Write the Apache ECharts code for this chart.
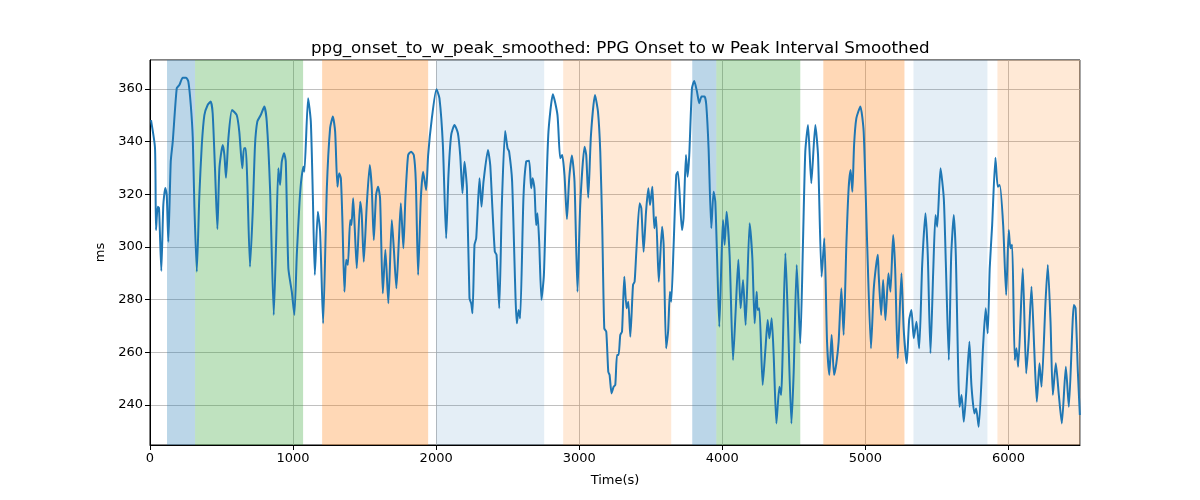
<!DOCTYPE html>
<html>
<head>
<meta charset="utf-8">
<script src="https://cdn.jsdelivr.net/npm/echarts@6/dist/echarts.min.js"></script>
<style>html,body{margin:0;padding:0;background:#fff}#c{width:1200px;height:500px}</style>
</head>
<body>
<div id="c"></div>
<script>
const title = 'ppg_onset_to_w_peak_smoothed: PPG Onset to w Peak Interval Smoothed';
const xTicks = [0, 1000, 2000, 3000, 4000, 5000, 6000];
const yTicks = [240, 260, 280, 300, 320, 340, 360];

const times = [7,35,42,54,63,79,93,107,117,128,145,159,187,205,229,252,268,285,299,310,327,345,362,380,403,424,438,455,471,485,508,520,531,548,573,606,624,645,657,669,680,699,718,734,750,774,799,816,839,865,881,897,909,921,937,949,967,991,1009,1026,1044,1056,1072,1079,1105,1124,1138,1152,1173,1189,1210,1236,1259,1278,1294,1310,1322,1334,1345,1359,1371,1383,1399,1408,1420,1431,1445,1469,1480,1494,1515,1536,1550,1564,1580,1594,1608,1627,1645,1666,1690,1704,1722,1739,1753,1771,1785,1804,1825,1844,1858,1874,1893,1909,1930,1944,1970,2002,2023,2047,2070,2086,2105,2128,2152,2168,2184,2198,2215,2233,2245,2254,2268,2280,2303,2317,2331,2362,2378,2392,2410,2422,2441,2459,2482,2499,2510,2531,2564,2576,2587,2610,2629,2650,2664,2674,2687,2699,2708,2720,2736,2753,2769,2785,2816,2848,2867,2881,2897,2914,2930,2949,2967,2988,3007,3037,3049,3063,3082,3110,3131,3147,3161,3175,3189,3203,3212,3226,3240,3252,3264,3275,3287,3299,3315,3331,3343,3357,3376,3387,3399,3422,3434,3450,3467,3483,3495,3511,3525,3537,3556,3579,3590,3607,3621,3634,3643,3659,3678,3690,3718,3729,3746,3757,3769,3788,3804,3823,3839,3855,3876,3888,3904,3923,3939,3951,3963,3979,3995,4005,4016,4030,4051,4075,4093,4112,4128,4145,4163,4191,4210,4226,4240,4247,4259,4282,4301,4317,4329,4345,4359,4378,4399,4411,4441,4459,4483,4499,4520,4545,4564,4580,4599,4622,4650,4669,4694,4713,4732,4748,4764,4781,4797,4813,4832,4848,4867,4883,4897,4909,4921,4937,4965,4988,5012,5039,5058,5073,5087,5093,5110,5124,5140,5161,5175,5194,5208,5226,5252,5268,5289,5306,5322,5338,5357,5376,5397,5420,5436,5455,5474,5490,5502,5525,5548,5562,5583,5600,5618,5632,5658,5672,5688,5705,5727,5741,5762,5774,5792,5823,5841,5855,5869,5886,5909,5925,5939,5963,5984,6002,6014,6026,6044,6056,6068,6100,6124,6142,6161,6180,6198,6217,6231,6259,6275,6294,6310,6331,6352,6373,6401,6422,6457,6469,6485,6499];

const values = [348.2,337.6,306.4,315.3,314.8,290.9,315.9,322.4,319.7,302.0,332.4,340.0,360.3,361.5,364.3,364.3,362.8,353.9,341.3,315.9,290.6,319.7,338.7,350.1,353.9,355.2,350.8,328.6,306.8,329.9,338.7,334.9,326.3,341.3,352.0,350.1,343.8,329.9,337.5,337.5,324.8,292.5,313.4,338.7,347.6,350.1,353.3,347.6,322.3,274.2,300.8,329.9,323.5,332.4,335.6,332.4,291.9,283.0,274.2,297.0,315.9,324.8,330.5,328.6,356.5,347.6,319.7,289.4,313.4,305.8,271.0,322.3,345.2,349.5,343.8,322.9,328.0,326.1,309.6,283.0,295.1,293.2,310.2,308.3,318.5,307.1,291.9,317.2,312.1,294.4,315.9,331.1,322.3,302.6,319.7,322.9,318.5,282.4,298.9,278.6,310.2,299.5,284.3,302.0,316.6,299.5,318.5,334.9,336.2,334.9,324.8,289.4,318.5,328.6,321.6,334.9,348.9,359.9,356.5,338.7,303.3,327.3,342.5,346.3,343.2,334.9,320.4,332.4,322.3,280.5,278.6,274.8,300.8,303.3,326.1,315.3,324.8,336.8,331.1,315.9,298.2,297.0,276.7,315.9,344.0,337.5,336.2,324.8,271.0,276.1,272.9,318.5,332.4,332.7,322.3,326.1,322.3,308.3,312.8,302.0,279.9,289.4,319.7,343.8,358.0,350.1,333.7,334.9,327.3,310.6,326.1,334.7,324.8,283.0,315.9,338.1,334.9,318.7,342.5,357.7,351.4,336.2,307.1,269.1,267.8,252.6,251.4,244.4,246.9,247.6,259.0,259.0,266.6,267.8,288.7,276.7,279.2,265.9,285.6,286.8,298.2,316.6,314.7,298.2,313.4,322.3,315.9,322.9,307.1,311.5,286.8,307.7,300.8,261.5,267.8,283.0,279.2,299.5,327.3,328.6,306.4,310.9,334.9,326.7,334.9,360.3,363.0,359.0,354.6,357.1,357.1,353.9,337.5,307.1,321.0,317.2,296.9,269.7,296.9,310.2,300.8,313.4,296.9,257.1,275.4,295.1,276.7,287.5,270.4,309.0,295.7,271.0,283.0,276.1,276.7,247.6,260.9,272.3,265.3,272.9,259.0,233.0,246.9,243.8,297.6,271.6,233.0,252.6,293.2,263.4,302.0,336.2,346.3,324.2,346.3,334.9,288.7,303.3,264.0,251.4,266.6,251.4,255.8,264.0,284.3,266.6,300.8,322.3,329.2,321.0,338.7,348.9,353.3,343.8,302.0,261.5,283.7,292.2,297.0,289.4,274.2,287.5,272.3,290.0,283.0,304.5,291.9,257.7,290.0,268.5,255.8,272.3,276.1,265.3,271.6,261.5,293.2,312.8,297.0,259.6,290.6,312.1,307.7,329.9,318.5,294.4,257.1,297.0,312.1,297.0,239.3,243.8,233.6,245.0,264.0,247.6,236.8,238.7,231.7,262.8,276.7,267.2,291.9,308.3,333.9,322.9,323.5,308.3,281.8,306.4,299.5,300.8,257.1,261.5,254.5,291.9,252.0,265.3,284.9,261.5,241.2,255.8,246.9,279.2,293.2,271.6,243.8,255.8,243.8,233.0,254.5,239.3,278.0,276.7,252.6,236.2];

// shaded segments: [start, end, kind]
const segStarts = [119, 315, 1203, 2000, 2888, 3790, 3958, 4706, 5336, 5923];
const segEnds   = [315, 1070, 1944, 2755, 3643, 3958, 4545, 5273, 5853, 6500];
const segKinds  = ['blue', 'green', 'orange', 'lightblue', 'lightorange', 'blue', 'green', 'orange', 'lightblue', 'lightorange'];

const kindColor = {
  blue: 'rgba(31,119,180,0.3)',
  green: 'rgba(44,160,44,0.3)',
  orange: 'rgba(255,127,14,0.3)',
  lightblue: 'rgba(31,119,180,0.12)',
  lightorange: 'rgba(255,127,14,0.17)'
};

const lineData = times.map((t, i) => [t, values[i]]);
const areas = segStarts.map((s, i) => [
  { xAxis: s, itemStyle: { color: kindColor[segKinds[i]] } },
  { xAxis: segEnds[i] }
]);

const font = 'DejaVu Sans';
const chart = echarts.init(document.getElementById('c'), null, { renderer: 'canvas' });
chart.setOption({
  animation: false,
  backgroundColor: '#fff',
  title: {
    text: title, left: 306, top: 35,
    textStyle: { fontFamily: font, fontSize: 16.7, fontWeight: 'normal', color: '#000' }
  },
  grid: { left: 150, right: 120, top: 60, bottom: 55, show: true, borderColor: '#000', borderWidth: 1, backgroundColor: 'transparent' },
  xAxis: {
    type: 'value', min: 0, max: 6500, interval: 1000,
    name: 'Time(s)', nameLocation: 'middle', nameGap: 29,
    nameTextStyle: { fontFamily: font, fontSize: 13, color: '#000' },
    axisLine: { show: true, lineStyle: { color: '#000', width: 1 } },
    axisTick: { show: true, length: 5, lineStyle: { color: '#000' } },
    axisLabel: { fontFamily: font, fontSize: 13, color: '#000', margin: 7, showMaxLabel: false,
      formatter: v => xTicks.includes(v) ? String(v) : '' },
    splitLine: { show: true, lineStyle: { color: '#b0b0b0', width: 0.8 } }
  },
  yAxis: {
    type: 'value', min: 224.8, max: 371, splitNumber: 7,
    name: 'ms', nameLocation: 'middle', nameGap: 42, nameRotate: 90,
    nameTextStyle: { fontFamily: font, fontSize: 13, color: '#000' },
    axisLine: { show: true, lineStyle: { color: '#000', width: 1 } },
    axisTick: { show: true, length: 5, lineStyle: { color: '#000' } },
    axisLabel: { fontFamily: font, fontSize: 13, color: '#000', margin: 7, showMinLabel: false, showMaxLabel: false,
      formatter: v => yTicks.includes(Math.round(v)) && Math.abs(v - Math.round(v)) < 1e-6 ? String(Math.round(v)) : '' },
    splitLine: { show: true, lineStyle: { color: '#b0b0b0', width: 0.8 } }
  },
  series: [{
    type: 'line',
    data: lineData,
    showSymbol: false,
    smooth: 0.2,
    lineStyle: { color: '#1f77b4', width: 2 },
    markArea: { silent: true, z: 1, data: areas },
    z: 3
  }]
});
</script>
</body>
</html>
